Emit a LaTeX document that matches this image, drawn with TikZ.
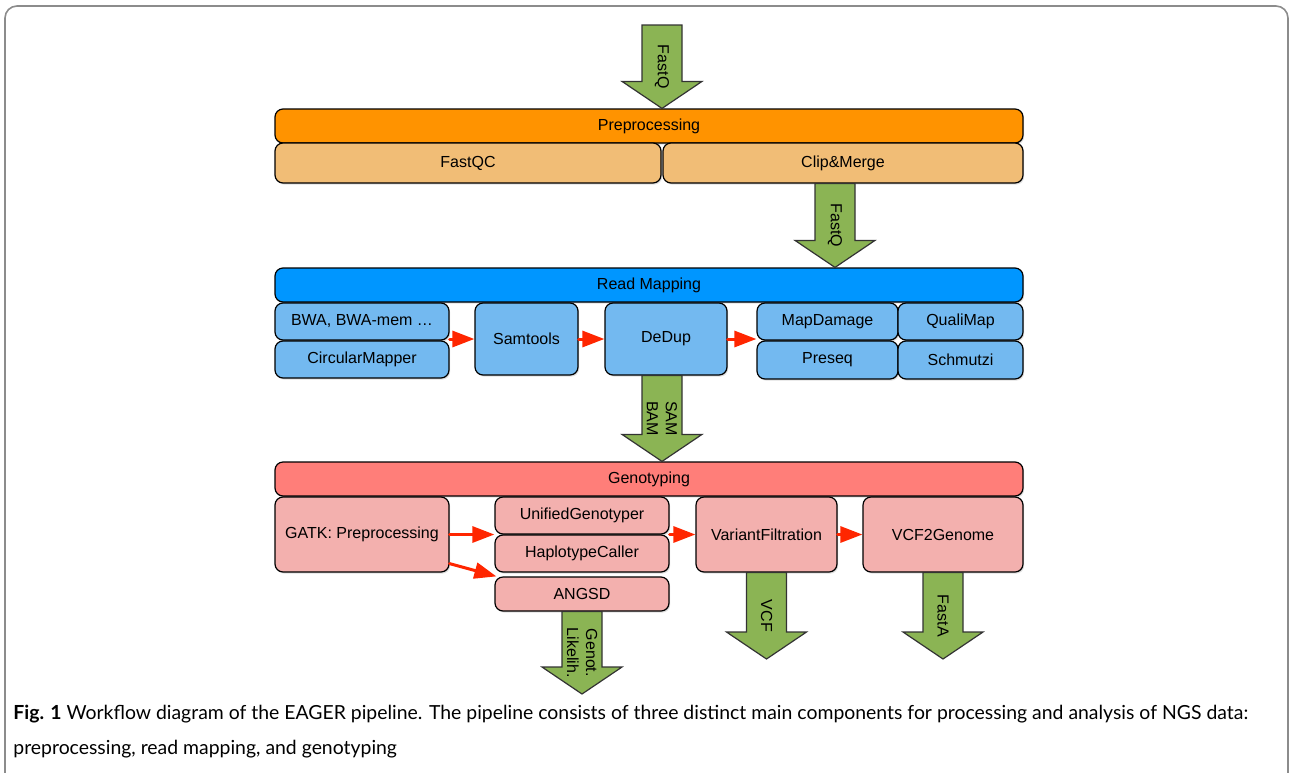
\documentclass[tikz,border=0pt]{standalone}
\usepackage{fontspec}
\setmainfont{Liberation Sans}
\newfontfamily\capfont{Lato}
\usepackage{tikz}
\usetikzlibrary{positioning, arrows.meta, calc, shadows}

\definecolor{prepdark}{RGB}{255,147,0}
\definecolor{preplight}{RGB}{241,189,118}
\definecolor{mapdark}{RGB}{0,150,255}
\definecolor{maplight}{RGB}{115,185,240}
\definecolor{genodark}{RGB}{255,126,121}
\definecolor{genolight}{RGB}{243,176,174}
\definecolor{flowred}{RGB}{255,38,0}
\definecolor{datagreen}{RGB}{139,180,84}
\definecolor{framegray}{RGB}{140,140,140}

% fat green data arrow from #1 down to the height of #2
\newcommand{\dataarrow}[3]{%
  \coordinate (tip) at (#1 |- #2);
  \draw[datashape] ($(#1)+(-10pt,0)$) -- ($(tip)+(-10pt,13.5pt)$)
    -- ($(tip)+(-20pt,13.5pt)$) -- (tip) -- ($(tip)+(20pt,13.5pt)$)
    -- ($(tip)+(10pt,13.5pt)$) -- ($(#1)+(10pt,0)$) -- cycle;
  \node[datalabel] at ($(#1)!0.5!(tip)$) {#3};}

\begin{document}
\begin{tikzpicture}[x=0.5pt, y=-0.5pt, font=\fontsize{8}{9.5}\selectfont,
    boxshadow/.style={drop shadow={shadow xshift=0.6pt, shadow yshift=-0.8pt, opacity=0.25}},
    phase/.style={draw, line width=0.6pt, rounded corners=4pt, inner sep=0pt,
                  minimum width=374pt, minimum height=17pt, boxshadow},
    tool/.style={draw, line width=0.6pt, rounded corners=4pt, inner sep=0pt,
                 align=center, boxshadow},
    flow/.style={draw=flowred, line width=1.5pt, line cap=round,
                 -{Triangle[length=11pt, width=8pt]}},
    datashape/.style={draw=black!80, line width=0.6pt, fill=datagreen, line join=miter},
    datalabel/.style={rotate=-90, align=center, inner sep=0pt},
    captext/.style={anchor=base west, inner sep=0pt, font=\capfont\fontsize{9.7}{11}\selectfont}]
  \useasboundingbox (0,0) rectangle (1290,772);
  % frame
  \draw[framegray, line width=0.8pt, rounded corners=6pt] (5,6) rectangle (1288,800);

  % Preprocessing
  \node[phase, fill=prepdark] (prep) at (649,126) {Preprocessing};
  \node[tool, fill=preplight, minimum width=193pt, minimum height=20pt] (fastqc) at (468,163) {FastQC};
  \node[tool, fill=preplight, minimum width=180pt, minimum height=20pt] (clip) at (843,163) {Clip\&Merge};

  % Read Mapping
  \node[phase, fill=mapdark] (map) at (649,285) {Read Mapping};
  \node[tool, fill=maplight, minimum width=87pt, minimum height=18.5pt] (bwa) at (362,321.5) {BWA, BWA-mem …};
  \node[tool, fill=maplight, minimum width=87pt, minimum height=18.5pt] (circ) at (362,359.5) {CircularMapper};
  \node[tool, fill=maplight, minimum width=51.5pt, minimum height=36pt] (samtools) at (526.5,339) {Samtools};
  \node[tool, fill=maplight, minimum width=61pt, minimum height=36pt] (dedup) at (666,339) {DeDup};
  \node[tool, fill=maplight, minimum width=70.5pt, minimum height=18.5pt] (mapdamage) at (827.5,321.5) {MapDamage};
  \node[tool, fill=maplight, minimum width=70.5pt, minimum height=19pt] (preseq) at (827.5,360) {Preseq};
  \node[tool, fill=maplight, minimum width=62.5pt, minimum height=18.5pt] (qualimap) at (960.5,321.5) {QualiMap};
  \node[tool, fill=maplight, minimum width=62.5pt, minimum height=19pt] (schmutzi) at (960.5,360) {Schmutzi};

  % Genotyping
  \node[phase, fill=genodark] (geno) at (649,479) {Genotyping};
  \node[tool, fill=genolight, minimum width=87pt, minimum height=37.5pt] (gatk) at (362,534.5) {GATK: Preprocessing};
  \node[tool, fill=genolight, minimum width=87pt, minimum height=18.5pt] (ug) at (582,515.5) {UnifiedGenotyper};
  \node[tool, fill=genolight, minimum width=87pt, minimum height=18.5pt] (hc) at (582,553.5) {HaplotypeCaller};
  \node[tool, fill=genolight, minimum width=87pt, minimum height=17pt] (angsd) at (582,594) {ANGSD};
  \node[tool, fill=genolight, minimum width=70.5pt, minimum height=37.5pt] (vf) at (766.5,534.5) {VariantFiltration};
  \node[tool, fill=genolight, minimum width=80pt, minimum height=37.5pt] (vcf2) at (943,534.5) {VCF2Genome};

  % red tool chains
  \draw[flow] (samtools.west -| bwa.east) -- (samtools.west);
  \draw[flow] (samtools) -- (dedup);
  \draw[flow] (dedup) -- (dedup -| mapdamage.west);
  \draw[flow] (gatk) -- (gatk -| ug.west);
  \draw[flow] ($(gatk.south east)+(0,4.5pt)$) -- ($(angsd.north west)+(1pt,0)$);
  \draw[flow] (vf.west -| ug.east) -- (vf.west);
  \draw[flow] (vf) -- (vcf2);

  % green data arrows
  \coordinate (fastqin) at (662,25);
  \coordinate (clipout) at ($(clip.south)+(-4pt,0)$);
  \coordinate (dedupout) at ($(dedup.south)+(-2pt,0)$);
  \coordinate (glout) at (580,694);
  \coordinate (vcfout) at (766,659);
  \coordinate (fastaout) at (945,659);
  \dataarrow{fastqin}{prep.north}{FastQ}
  \dataarrow{clipout}{map.north}{FastQ}
  \dataarrow{dedupout}{geno.north}{SAM\\BAM}
  \dataarrow{angsd.south}{glout}{Genot.\\Likelih.}
  \dataarrow{vf.south}{vcfout}{VCF}
  \dataarrow{vcf2.south}{fastaout}{FastA}

  % caption
  \node[captext] (cap1) at (13,719)
    {\textbf{Fig. 1} Workflow diagram of the EAGER pipeline. The pipeline consists of three distinct main components for processing and analysis of NGS data:};
  \node[captext] (cap2) at (13,754)
    {preprocessing, read mapping, and genotyping};
\end{tikzpicture}
\end{document}
